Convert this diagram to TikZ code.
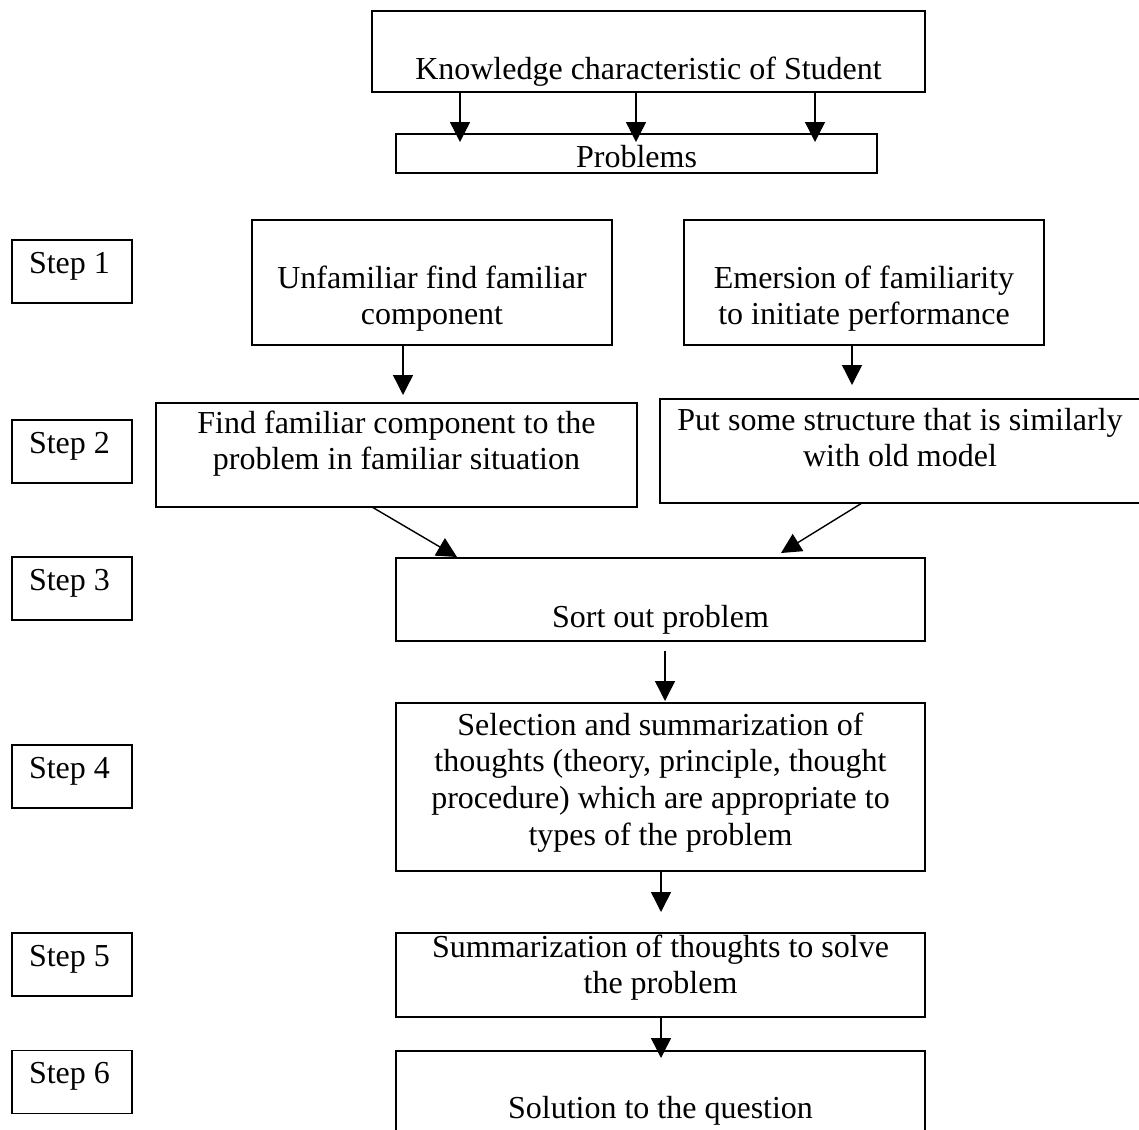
\documentclass[tikz,border=0pt]{standalone}
\usepackage{fontspec}
\setmainfont{Liberation Serif}
\usetikzlibrary{arrows.meta}

% centred block of lines whose reference point is the first baseline
\newcommand{\txtlines}[1]{\begin{tabular}[t]{@{}c@{}}#1\end{tabular}}

\tikzset{
  x=1pt, y=-1pt,
  box/.style={draw, line width=1.5pt, rectangle, inner sep=0pt, outer sep=0pt},
  stepbox/.style={box, minimum width=120pt, minimum height=63pt},
  lbl/.style={inner sep=0pt, outer sep=0pt, anchor=base,
    font=\fontsize{32}{36.7}\selectfont},
  steplbl/.style={lbl, anchor=base west},
  arr/.style={line width=1.4pt, -{Triangle[width=20pt,length=20pt]}},
}

\begin{document}
\begin{tikzpicture}
\useasboundingbox (0,0) rectangle (1139,1129);

% ---- boxes ----
\node[box, minimum width=553pt, minimum height=81pt] (know) at (648.5,51.5) {};
\node[box, minimum width=481pt, minimum height=39pt] (prob) at (636.5,153.5) {};
\node[box, minimum width=360pt, minimum height=125pt] (unf) at (432,282.5) {};
\node[box, minimum width=360pt, minimum height=125pt] (eme) at (864,282.5) {};
\node[box, minimum width=481pt, minimum height=104pt] (find) at (396.5,455) {};
\node[box, minimum width=480pt, minimum height=104pt] (put) at (900,451) {};
\node[box, minimum width=529pt, minimum height=83pt] (sort) at (660.5,599.5) {};
\node[box, minimum width=529pt, minimum height=168pt] (sel) at (660.5,787) {};
\node[box, minimum width=529pt, minimum height=84pt] (summ) at (660.5,975) {};
\node[box, minimum width=529pt, minimum height=89pt] (sol) at (660.5,1095.5) {};

\node[stepbox] (s1) at (72,271.5) {};
\node[stepbox] (s2) at (72,451.5) {};
\node[stepbox] (s3) at (72,588.5) {};
\node[stepbox] (s4) at (72,776.5) {};
\node[stepbox] (s5) at (72,964.5) {};
\node[stepbox] (s6) at (72,1082) {};

% ---- texts ----
\node[lbl] (knowt) at (648.5,80) {Knowledge characteristic of Student};
\node[lbl] (probt) at (636.5,167) {Problems};
\node[lbl] (unft) at (432,288) {\txtlines{Unfamiliar find familiar\\component}};
\node[lbl] (emet) at (864,288) {\txtlines{Emersion of familiarity\\to initiate performance}};
\node[lbl] (findt) at (396.5,433) {\txtlines{Find familiar component to the\\problem in familiar situation}};
\node[lbl] (putt) at (900,430) {\txtlines{Put some structure that is similarly\\with old model}};
\node[lbl] (sortt) at (660.5,627) {Sort out problem};
\node[lbl] (selt) at (660.5,735) {\txtlines{Selection and summarization of\\thoughts (theory, principle, thought\\procedure) which are appropriate to\\types of the problem}};
\node[lbl] (summt) at (660.5,957) {\txtlines{Summarization of thoughts to solve\\the problem}};
\node[lbl] (solt) at (660.5,1118) {Solution to the question};

\node[steplbl] (s1t) at (29,273) {Step 1};
\node[steplbl] (s2t) at (29,453) {Step 2};
\node[steplbl] (s3t) at (29,590) {Step 3};
\node[steplbl] (s4t) at (29,778) {Step 4};
\node[steplbl] (s5t) at (29,966) {Step 5};
\node[steplbl] (s6t) at (29,1083) {Step 6};

% ---- arrow tips ----
\coordinate (ta) at (460,142);
\coordinate (tb) at (636,142);
\coordinate (tc) at (815,142);
\coordinate (td) at (403,395);
\coordinate (te) at (852,385);
\coordinate (sf) at (372,0);
\coordinate (tf) at (457,557);
\coordinate (sg) at (862,0);
\coordinate (tg) at (781,553);
\coordinate (th) at (665,701);
\coordinate (ti) at (661,912);
\coordinate (tj) at (661,1058);

% ---- connectors ----
\draw[arr] (know.south -| ta) -- (ta);
\draw[arr] (know.south -| tb) -- (tb);
\draw[arr] (know.south -| tc) -- (tc);
\draw[arr] (unf.south -| td) -- (td);
\draw[arr] (eme.south -| te) -- (te);
\draw[arr] (find.south -| sf) -- (tf);
\draw[arr] (put.south -| sg) -- (tg);
\draw[arr] ([yshift=-10pt]sort.south -| th) -- (th);
\draw[arr] (sel.south -| ti) -- (ti);
\draw[arr] (summ.south -| tj) -- (tj);
\end{tikzpicture}
\end{document}
